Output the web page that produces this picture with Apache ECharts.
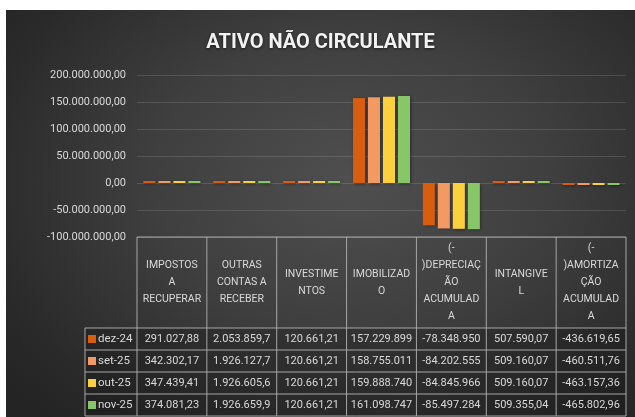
<!DOCTYPE html>
<html>
<head>
<meta charset="utf-8">
<script src="https://cdn.jsdelivr.net/npm/echarts@6/dist/echarts.min.js"></script>
<style>
  html, body { margin: 0; padding: 0; background: #fff; width: 635px; height: 417px; overflow: hidden; }
  #chart {
    position: absolute; left: 6px; top: 10px; width: 629px; height: 407px;
    background: radial-gradient(ellipse 70% 80% at 55% 42%, #4f4f4f 0%, #3f3f3f 45%, #2a2a2a 85%, #242424 100%);
  }
</style>
</head>
<body>
<div id="chart"></div>
<script>
// categorias (como o Excel quebrou o texto na tabela de dados)
const categories = [
  "IMPOSTOS A RECUPERAR", "OUTRAS CONTAS A RECEBER", "INVESTIMENTOS", "IMOBILIZADO",
  "(-)DEPRECIAÇÃO ACUMULADA", "INTANGIVEL", "(-)AMORTIZAÇÃO ACUMULADA"
];
const headerLabels = [
  "IMPOSTOS\nA\nRECUPERAR", "OUTRAS\nCONTAS A\nRECEBER", "INVESTIME\nNTOS", "IMOBILIZAD\nO",
  "(-\n)DEPRECIAÇ\nÃO\nACUMULAD\nA", "INTANGIVE\nL", "(-\n)AMORTIZA\nÇÃO\nACUMULAD\nA"
];
const seriesNames = ["dez-24", "set-25", "out-25", "nov-25"];
const dez24 = [291027.88, 2053859.7, 120661.21, 157229899, -78348950, 507590.07, -436619.65];
const set25 = [342302.17, 1926127.7, 120661.21, 158755011, -84202555, 509160.07, -460511.76];
const out25 = [347439.41, 1926605.6, 120661.21, 159888740, -84845966, 509160.07, -463157.36];
const nov25 = [374081.23, 1926659.9, 120661.21, 161098747, -85497284, 509355.04, -465802.96];
const seriesValues = [dez24, set25, out25, nov25];
// casas decimais mostradas em cada coluna da tabela
const tableDecimals = [2, 1, 2, 0, 0, 2, 2];
const yTicks = [-100000000, -50000000, 0, 50000000, 100000000, 150000000, 200000000];

const colors = ["#d95d0e", "#f29a62", "#fbd03c", "#88c768"];
const FONT = "Roboto, 'Liberation Sans', sans-serif";
const TXT = "#d9d9d9";

function fmtBR(v, dec) {
  const neg = v < 0;
  const s = Math.abs(v).toFixed(dec);
  let [ip, fp] = s.split(".");
  ip = ip.replace(/\B(?=(\d{3})+(?!\d))/g, ".");
  return (neg ? "-" : "") + ip + (fp ? "," + fp : "");
}

// geometria da grade / tabela
const G = { left: 131, top: 65, width: 489, height: 162 };
const colW = G.width / categories.length;
const headH = 91, rowH = 22, legL = 79;

const chart = echarts.init(document.getElementById("chart"));

function buildTable() {
  const els = [];
  const lineStyle = { stroke: "#a6a6a6", lineWidth: 1 };
  const t0 = G.top + G.height;
  const tEnd = t0 + headH + rowH * seriesNames.length;
  els.push({ type: "line", shape: { x1: G.left, y1: t0, x2: G.left + G.width, y2: t0 }, style: lineStyle });
  for (let r = 0; r <= seriesNames.length; r++) {
    const y = t0 + headH + r * rowH;
    if (r < seriesNames.length) {
      els.push({ type: "rect", shape: { x: legL, y: y, width: G.left + G.width - legL, height: rowH },
        style: { fill: "rgba(0,0,0,0.18)" }, z: -1 });
    }
    els.push({ type: "line", shape: { x1: legL, y1: y, x2: G.left + G.width, y2: y }, style: lineStyle });
  }
  for (let c = 0; c <= categories.length; c++) {
    const x = G.left + c * colW;
    els.push({ type: "line", shape: { x1: x, y1: t0, x2: x, y2: tEnd }, style: lineStyle });
  }
  els.push({ type: "line", shape: { x1: legL, y1: t0 + headH, x2: legL, y2: tEnd }, style: lineStyle });
  headerLabels.forEach((lab, c) => {
    els.push({ type: "text", x: G.left + (c + 0.5) * colW, y: t0 + headH / 2,
      style: { text: lab, fill: TXT, font: "10.5px " + FONT, align: "center", verticalAlign: "middle", lineHeight: 17 } });
  });
  seriesNames.forEach((name, r) => {
    const yc = t0 + headH + (r + 0.5) * rowH;
    els.push({ type: "rect", shape: { x: legL + 3, y: yc - 4, width: 8, height: 8 }, style: { fill: colors[r] } });
    els.push({ type: "text", x: legL + 13, y: yc,
      style: { text: name, fill: TXT, font: "11.5px " + FONT, align: "left", verticalAlign: "middle" } });
    seriesValues[r].forEach((v, c) => {
      els.push({ type: "text", x: G.left + (c + 0.5) * colW, y: yc,
        style: { text: fmtBR(v, tableDecimals[c]), fill: TXT, font: "11px " + FONT, align: "center", verticalAlign: "middle" } });
    });
  });
  return els;
}

chart.setOption({
  backgroundColor: "transparent",
  animation: false,
  title: {
    text: "ATIVO NÃO CIRCULANTE",
    left: "center", top: 18,
    textStyle: { color: "#f2f2f2", fontSize: 20, fontWeight: "bold", fontFamily: FONT,
      textShadowColor: "rgba(0,0,0,0.6)", textShadowBlur: 3, textShadowOffsetY: 1 }
  },
  grid: { left: G.left, top: G.top, width: G.width, height: G.height, containLabel: false },
  xAxis: {
    type: "category", data: categories,
    axisLine: { show: false }, axisTick: { show: false }, axisLabel: { show: false }, splitLine: { show: false }
  },
  yAxis: {
    type: "value", min: yTicks[0], max: yTicks[yTicks.length - 1], interval: 50000000,
    axisLine: { show: false }, axisTick: { show: false },
    splitLine: { lineStyle: { color: "rgba(255,255,255,0.13)", width: 1 } },
    axisLabel: { color: TXT, fontSize: 11, fontFamily: FONT, margin: 11, formatter: v => fmtBR(v, 2) }
  },
  series: seriesNames.map((name, i) => ({
    name: name, type: "bar", data: seriesValues[i],
    barWidth: 12, barGap: "25%", barMinHeight: 2,
    itemStyle: {
      color: colors[i],
      shadowColor: "rgba(0,0,0,0.45)", shadowBlur: 3, shadowOffsetX: 1, shadowOffsetY: 1
    }
  })),
  graphic: buildTable()
});
</script>
</body>
</html>
